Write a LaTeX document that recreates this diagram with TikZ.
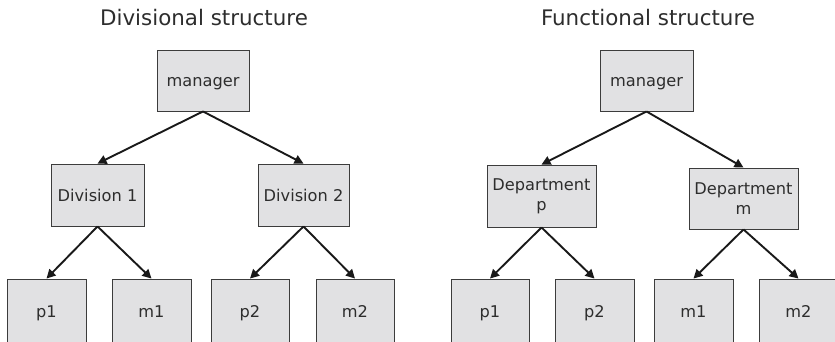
\documentclass[tikz,border=0pt]{standalone}
\usepackage{fontspec}
\setmainfont{DejaVu Sans}
\usepackage{xcolor}
\definecolor{boxfill}{RGB}{225,225,227}
\definecolor{boxline}{RGB}{60,60,60}
\definecolor{textgray}{RGB}{45,45,45}
\usetikzlibrary{arrows.meta}

\begin{document}
\begin{tikzpicture}[x=1pt, y=-1pt,
    every node/.style={text=textgray},
    unit/.style={draw=boxline, fill=boxfill, line width=0.9pt, inner sep=0pt,
        align=center, font=\fontsize{16.2}{20}\selectfont},
    oneline/.style={unit, text height=12pt, text depth=0pt},
    headline/.style={font=\fontsize{21.4}{25}\selectfont},
    link/.style={-{Triangle[length=9pt, width=9pt]}, line width=1.9pt, color=black!90}]

    \useasboundingbox (0,0) rectangle (835,341);

    % divisional structure
    \node[headline] (titleA) at (204,18) {Divisional structure};
    \node[oneline, minimum width=92pt, minimum height=61pt] (mgrA) at (203,80.5) {manager};
    \node[oneline, minimum width=93pt, minimum height=62pt] (divA) at (97.5,195) {Division 1};
    \node[oneline, minimum width=91pt, minimum height=62pt] (divB) at (303.5,195) {Division 2};
    \node[oneline, minimum width=79pt, minimum height=64pt] (pA1) at (46.5,311) {p1};
    \node[oneline, minimum width=79pt, minimum height=64pt] (mA1) at (151.5,311) {m1};
    \node[oneline, minimum width=78pt, minimum height=64pt] (pA2) at (250,311) {p2};
    \node[oneline, minimum width=78pt, minimum height=64pt] (mA2) at (355,311) {m2};

    \draw[link] (mgrA.south) -- (divA.north);
    \draw[link] (mgrA.south) -- (divB.north);
    \draw[link] (divA.south) -- (pA1.north);
    \draw[link] (divA.south) -- (mA1.north);
    \draw[link] (divB.south) -- (pA2.north);
    \draw[link] (divB.south) -- (mA2.north);

    % functional structure
    \node[headline] (titleB) at (648,18) {Functional structure};
    \node[oneline, minimum width=93pt, minimum height=61pt] (mgrB) at (646.5,80.5) {manager};
    \node[unit, minimum width=109pt, minimum height=62pt] (depP) at (541.5,196) {Department\\p};
    \node[unit, minimum width=109pt, minimum height=61pt] (depM) at (743.5,198.5) {Department\\m};
    \node[oneline, minimum width=78pt, minimum height=64pt] (pB1) at (490,311) {p1};
    \node[oneline, minimum width=79pt, minimum height=64pt] (pB2) at (594.5,311) {p2};
    \node[oneline, minimum width=79pt, minimum height=64pt] (mB1) at (693.5,311) {m1};
    \node[oneline, minimum width=79pt, minimum height=64pt] (mB2) at (798.5,311) {m2};

    \draw[link] (mgrB.south) -- (depP.north);
    \draw[link] (mgrB.south) -- (depM.north);
    \draw[link] (depP.south) -- (pB1.north);
    \draw[link] (depP.south) -- (pB2.north);
    \draw[link] (depM.south) -- (mB1.north);
    \draw[link] (depM.south) -- (mB2.north);

\end{tikzpicture}
\end{document}
